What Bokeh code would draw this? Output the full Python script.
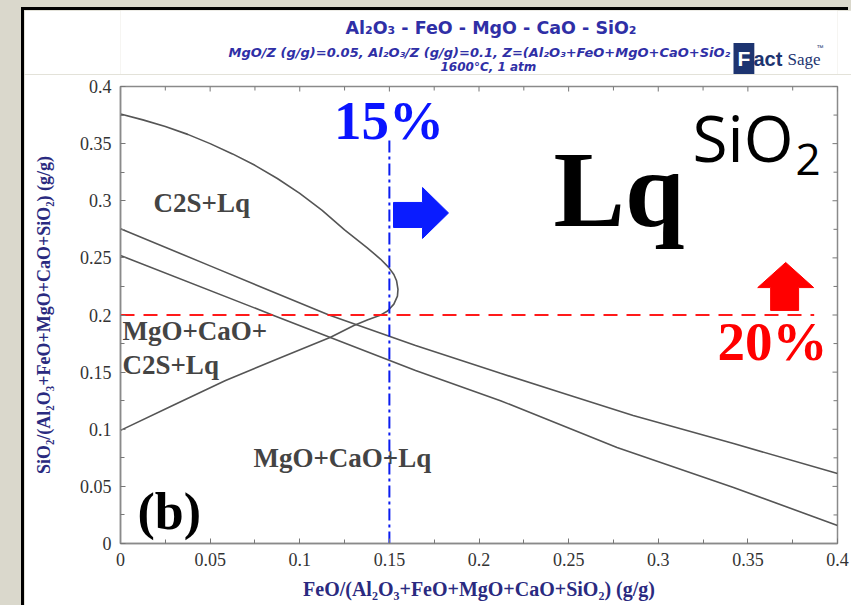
from bokeh.plotting import figure
from bokeh.models import Range1d, FixedTicker, Label
from bokeh.layouts import column
from bokeh.embed import file_html
from bokeh.resources import INLINE

# ---------------- data ----------------
# C2S + Lq boundary (upper branch -> nose -> lower branch)
c2s_x = [0.0000, 0.0125, 0.0250, 0.0375, 0.0500, 0.0625, 0.0750, 0.0875, 0.1000, 0.1125,
         0.1250, 0.1375, 0.1450, 0.1496, 0.1525, 0.1540, 0.1548, 0.1545, 0.1525, 0.1490,
         0.1445, 0.1380, 0.1302, 0.1172, 0.0875, 0.0586, 0.0300, 0.0000]
c2s_y = [0.3760, 0.3708, 0.3650, 0.3581, 0.3500, 0.3410, 0.3310, 0.3195, 0.3065, 0.2915,
         0.2745, 0.2590, 0.2490, 0.2417, 0.2355, 0.2300, 0.2225, 0.2165, 0.2095, 0.2035,
         0.1995, 0.1958, 0.1908, 0.1806, 0.1615, 0.1427, 0.1215, 0.0990]

# upper MgO+CaO boundary
upper_x = [0.000, 0.050, 0.1163, 0.1646, 0.212, 0.250, 0.286, 0.342, 0.400]
upper_y = [0.2755, 0.243, 0.200, 0.1733, 0.149, 0.130, 0.112, 0.0875, 0.0613]

# lower MgO+CaO boundary
lower_x = [0.000, 0.0865, 0.1646, 0.212, 0.277, 0.342, 0.400]
lower_y = [0.252, 0.199, 0.1514, 0.125, 0.084, 0.049, 0.0158]

# limit lines
feo_limit = 0.15
feo_limit_top = 0.353
sio2_limit = 0.20
sio2_limit_end = 0.387

# ticks
major_ticks = [0.0, 0.05, 0.10, 0.15, 0.20, 0.25, 0.30, 0.35, 0.40]
tick_labels = ["0", "0.05", "0.1", "0.15", "0.2", "0.25", "0.3", "0.35", "0.4"]
minor_ticks = [0.025, 0.075, 0.125, 0.175, 0.225, 0.275, 0.325, 0.375]

# block arrows (outline vertices, data units)
blue_arrow_x = [0.1523, 0.1685, 0.1685, 0.1830, 0.1685, 0.1685, 0.1523]
blue_arrow_y = [0.2766, 0.2766, 0.2670, 0.2893, 0.3116, 0.2985, 0.2985]
red_arrow_x = [0.3627, 0.3783, 0.3783, 0.3867, 0.3711, 0.3555, 0.3627]
red_arrow_y = [0.2040, 0.2040, 0.2240, 0.2240, 0.2460, 0.2240, 0.2240]

X_LO, X_HI, Y_LO, Y_HI = 0.0, 0.4, 0.0, 0.4
BL, BR = 96, 14   # left / right borders shared by both stacked figures

# ---------------- header figure (title + logo) ----------------
# its frame is aligned with the main frame; x is given in page pixels (120..837)
HH = 64
head = figure(width=827, height=HH, output_backend="svg", toolbar_location=None,
              x_range=Range1d(120, 837), y_range=Range1d(0, HH),
              min_border_left=BL, min_border_right=BR, min_border_top=0, min_border_bottom=0,
              background_fill_color="white", border_fill_color="white")
head.axis.visible = False
head.grid.visible = False
head.outline_line_color = None
head.margin = (10, 0, 0, 24)
head.styles = {"box-shadow": "-3px -3px 0px 0px #000000, -3px 0px 0px 0px #000000"}

def hlab(x, y, text, size, color, font="DejaVu Sans", style="bold", align="left", **kw):
    head.add_layout(Label(x=x, y=y, text=text, text_font=font, text_font_style=style,
                          text_font_size=size, text_color=color, text_align=align,
                          text_baseline="middle", **kw))

title_col = "#2f2fa6"
hlab(345, 47, "Al₂O₃ - FeO - MgO - CaO - SiO₂", "17.5px", title_col)
hlab(228, 22, "MgO/Z (g/g)=0.05, Al₂O₃/Z (g/g)=0.1, Z=(Al₂O₃+FeO+MgO+CaO+SiO₂",
     "13px", title_col, style="bold italic")
hlab(440, 7.5, "1600°C, 1 atm", "12px", title_col, style="bold italic")

logo_col = "#1d3470"
hlab(733, 16, "F", "21px", "white", font="Liberation Sans",
     background_fill_color=logo_col, padding=4)
hlab(753, 16, "act", "20px", logo_col, font="Liberation Sans")
hlab(787, 15, "Sage", "17px", logo_col, font="Liberation Serif", style="normal")
hlab(816, 27, "™", "7px", logo_col, font="Liberation Sans", style="normal")

# ---------------- main figure ----------------
p = figure(width=827, height=531, output_backend="svg", toolbar_location=None,
           x_range=Range1d(X_LO, X_HI), y_range=Range1d(Y_LO, Y_HI),
           min_border_left=BL, min_border_right=BR, min_border_top=12, min_border_bottom=62,
           background_fill_color="white", border_fill_color="white")
p.margin = (0, 0, 0, 24)
p.styles = {"box-shadow": "-3px 0px 0px 0px #000000"}
p.grid.visible = False
p.outline_line_color = "#8a8a8a"
p.outline_line_width = 1.5

ticker = FixedTicker(ticks=major_ticks, minor_ticks=minor_ticks)
overrides = {t: l for t, l in zip(major_ticks, tick_labels)}

for ax in (p.xaxis[0], p.yaxis[0]):
    ax.ticker = ticker
    ax.axis_line_color = "#8a8a8a"
    ax.axis_line_width = 1.5
    ax.major_tick_in = 5
    ax.major_tick_out = 0
    ax.minor_tick_in = 4
    ax.minor_tick_out = 0
    ax.major_tick_line_color = "#777777"
    ax.minor_tick_line_color = "#777777"
    ax.major_label_overrides = overrides
    ax.major_label_text_font = "Liberation Serif"
    ax.major_label_text_font_size = "18px"
    ax.major_label_text_color = "#333333"
    ax.major_label_standoff = 9
    ax.axis_label_text_font = "Liberation Serif"
    ax.axis_label_text_font_style = "bold"
    ax.axis_label_text_color = "#2a2a80"

xa = p.xaxis[0]
ya = p.yaxis[0]
xa.axis_label = "FeO/(Al₂O₃+FeO+MgO+CaO+SiO₂) (g/g)"
ya.axis_label = "SiO₂/(Al₂O₃+FeO+MgO+CaO+SiO₂) (g/g)"
xa.axis_label_text_font_size = "20px"
ya.axis_label_text_font_size = "18px"
xa.axis_label_standoff = 9
ya.axis_label_standoff = 23

# ticks on the top and right edges of the frame (lengths in pixels -> data units)
px_x = 717.0 / (X_HI - X_LO)
px_y = 457.0 / (Y_HI - Y_LO)
tick_col = "#777777"
p.segment(x0=major_ticks, y0=[Y_HI] * len(major_ticks), x1=major_ticks,
          y1=[Y_HI - 5 / px_y] * len(major_ticks), line_color=tick_col, line_width=1)
p.segment(x0=minor_ticks, y0=[Y_HI] * len(minor_ticks), x1=minor_ticks,
          y1=[Y_HI - 4 / px_y] * len(minor_ticks), line_color=tick_col, line_width=1)
p.segment(x0=[X_HI] * len(major_ticks), y0=major_ticks, x1=[X_HI - 5 / px_x] * len(major_ticks),
          y1=major_ticks, line_color=tick_col, line_width=1)
p.segment(x0=[X_HI] * len(minor_ticks), y0=minor_ticks, x1=[X_HI - 4 / px_x] * len(minor_ticks),
          y1=minor_ticks, line_color=tick_col, line_width=1)

# ---------------- phase boundaries ----------------
line_col = "#555555"
p.line(c2s_x, c2s_y, line_color=line_col, line_width=1.6)
p.line(upper_x, upper_y, line_color=line_col, line_width=1.6)
p.line(lower_x, lower_y, line_color=line_col, line_width=1.6)

# limit lines
p.line([0, sio2_limit_end], [sio2_limit, sio2_limit], line_color="#ff1a1a", line_width=2,
       line_dash="14 9")
p.line([feo_limit, feo_limit], [0, feo_limit_top], line_color="#0a1cf0", line_width=2,
       line_dash="12 4 3 4")

# arrows
p.patch(blue_arrow_x, blue_arrow_y, fill_color="#0a1cff", line_color="#0a1cff")
p.patch(red_arrow_x, red_arrow_y, fill_color="#ff0000", line_color="#ff0000")

# ---------------- texts ----------------
def lab(x, y, text, size, color, font="Liberation Serif", style="bold", align="left"):
    p.add_layout(Label(x=x, y=y, text=text, text_font=font, text_font_style=style,
                       text_font_size=size, text_color=color, text_align=align,
                       text_baseline="middle"))

region_col = "#444444"
lab(0.0184, 0.2976, "C2S+Lq", "27px", region_col)
lab(0.0011, 0.1864, "MgO+CaO+", "27px", region_col)
lab(0.0011, 0.1558, "C2S+Lq", "27px", region_col)
lab(0.0742, 0.0744, "MgO+CaO+Lq", "27px", region_col)
lab(0.0095, 0.0280, "(b)", "52px", "#000000")
lab(0.1498, 0.3702, "15%", "55px", "#0a14ff", align="center")
lab(0.3637, 0.1768, "20%", "55px", "#ff0000", align="center")
lab(0.2416, 0.3090, "Lq", "107px", "#000000")
lab(0.3191, 0.3550, "SiO", "64px", "#000000", font="Open Sans", style="normal")
lab(0.3766, 0.3360, "2", "44px", "#000000", font="Open Sans", style="normal")

root = column(head, p, spacing=0, styles={"background-color": "#dad8cc"})

open("out.html", "w").write(file_html(root, INLINE))
